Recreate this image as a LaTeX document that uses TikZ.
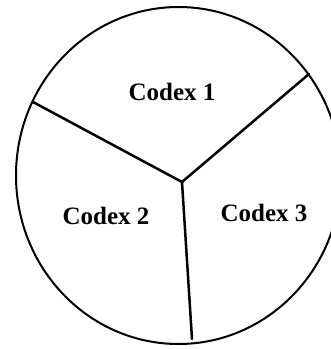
\documentclass[tikz,border=0pt]{standalone}
\usepackage{fontspec}
\setmainfont{Liberation Serif}
\begin{document}
\begin{tikzpicture}[x=1pt,y=-1pt,
  rim/.style={line width=2pt},
  spoke/.style={line width=2.5pt, line cap=round},
  label/.style={font=\fontsize{25}{25}\selectfont\bfseries, inner sep=0pt}]
\useasboundingbox (0,0) rectangle (331,349);
\clip (0,0) rectangle (331,349);
\fill[white] (0,0) rectangle (331,349);
\draw[rim] (178.5,175.5) ellipse [x radius=162.5, y radius=168.5];
\coordinate (o) at (182,182);
\coordinate (a) at (33,102);
\coordinate (b) at (309,74);
\coordinate (c) at (192,339);
\draw[spoke] (o) -- (a);
\draw[spoke] (o) -- (b);
\draw[spoke] (o) -- (c);
\node[label] (c1) at (172,92) {Codex 1};
\node[label] (c2) at (106,216) {Codex 2};
\node[label] (c3) at (264,213) {Codex 3};
\end{tikzpicture}
\end{document}
